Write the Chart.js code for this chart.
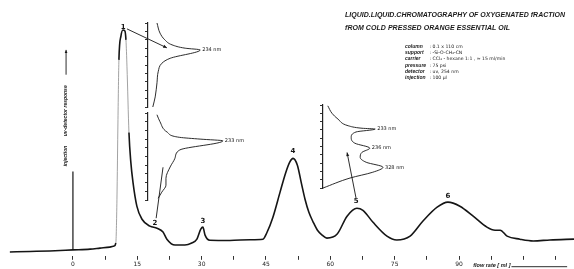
<!DOCTYPE html>
<html>
<head>
<meta charset="utf-8">
<title>Liquid-liquid chromatography of oxygenated fraction</title>
<script src="https://cdn.jsdelivr.net/npm/chart.js@4.4.1/dist/chart.umd.min.js"></script>
<style>
  html, body { margin: 0; padding: 0; background: #fff; }
  #wrap { position: relative; width: 574px; height: 269px; overflow: hidden; }
  canvas { position: absolute; }
  .head { position: absolute; left: 345px; white-space: nowrap; color: #1a1a1a;
          font: italic bold 7px "Liberation Sans", Arial, sans-serif; line-height: 8px; }
  #info { position: absolute; left: 405px; top: 43px; color: #1a1a1a; white-space: nowrap;
          font: 4.6px "DejaVu Sans", sans-serif; line-height: 4.2px; }
  #info b { display: inline-block; width: 23px; font: italic bold 5px "Liberation Sans", Arial, sans-serif; }
</style>
</head>
<body>
<div id="wrap">
  <canvas id="main" width="574" height="269" style="left:0;top:0"></canvas>
  <canvas id="spec1" width="100" height="88" style="left:144px;top:21px"></canvas>
  <canvas id="spec2" width="110" height="91" style="left:144px;top:111px"></canvas>
  <canvas id="spec5" width="100" height="87" style="left:319px;top:103px"></canvas>
  <div class="head" data-w="220" style="top:11px">LIQUID.LIQUID.CHROMATOGRAPHY OF OXYGENATED fRACTION</div>
  <div class="head" data-w="165" style="top:24px">fROM COLD PRESSED ORANGE ESSENTIAL OIL</div>
  <div id="info">
    <div><b>column</b> : 0.1 x 110 cm</div>
    <div><b>support</b> : -Si-O-CH₂-CN</div>
    <div><b>carrier</b> : CCl₄ - hexane 1:1 , ≈ 15 ml/min</div>
    <div><b>pressure</b> : 75 psi</div>
    <div><b>detector</b> : uv, 254 nm</div>
    <div><b>injection</b> : 100 µl</div>
  </div>
</div>
<script>
// recorder trace: flow rate (ml) against uv response (relative, 0-100)
const traceFlow = [-14.7, -10.0, -5.4, 0, 4.0, 6.3, 8.6, 9.6, 10.0, 10.26, 10.5, 10.72, 11.2, 11.66, 12.1,
  12.36, 12.6, 13.06, 13.5, 14.0, 14.9, 16.1, 17.95, 19.6, 21.0, 21.9, 23.8, 26.1, 27.7, 28.9, 29.8,
  30.3, 30.8, 31.9, 36.6, 41.3, 44.3, 45.2, 46.6, 48.3, 49.6, 50.6, 51.3, 52.3, 53.3, 54.1, 55.0,
  56.0, 57.0, 58.1, 59.2, 61.6, 63.9, 66.2, 67.6, 69.9, 73.2, 75.5, 78.6, 81.6, 84.9, 87.4, 90.2,
  93.3, 96.5, 98.4, 99.6, 101.2, 104.2, 107.3, 111.2, 116.8];
const traceResponse = [1.5, 1.7, 1.9, 2.3, 2.6, 3.0, 3.4, 3.8, 5.0, 22.1, 53.3, 76.6, 86.0, 88.3, 87.9,
  84.4, 73.9, 48.2, 36.5, 28.7, 19.4, 14.3, 11.6, 10.8, 9.3, 6.5, 4.2, 4.2, 5.0, 6.5, 10.4,
  11.2, 8.1, 6.1, 6.0, 6.3, 6.5, 9.0, 15.0, 25.0, 32.5, 36.8, 38.1, 35.5, 28.0, 22.1, 17.0,
  13.2, 10.0, 8.1, 6.9, 8.5, 15.5, 18.6, 17.8, 13.2, 7.7, 6.2, 7.7, 13.6, 19.0, 21.0, 19.4,
  15.5, 11.2, 10.0, 10.0, 7.7, 6.5, 5.8, 6.2, 6.5];

// injection mark
const injectionFlow = [0, 0];
const injectionResponse = [2.3, 33];

// peak numbers
const peakNames = ['1', '2', '3', '4', '5', '6'];
const peakFlow = [11.7, 19.1, 30.3, 51.3, 66.0, 87.4];
const peakLabelHeight = [89.5, 12.8, 13.6, 40.8, 21.3, 23.3];

// pointer lines from the peak numbers to the spectra
const pointerFlow = [[12.6, 21.9], [19.4, 21.0], [66.0, 63.9]];
const pointerResponse = [[88.7, 81.3], [14.7, 34.6], [22.5, 40.4]];
const pointerArrow = [true, false, true];

// flow rate axis
const tickValues = [0, 7.5, 15, 22.5, 30, 37.5, 45, 52.5, 60, 67.5, 75, 82.5, 90, 97.5, 105, 112.5];
const tickLabels = ['0', '', '15', '', '30', '', '45', '', '60', '', '75', '', '90', '', '', ''];

// uv spectra (absorbance across, wavelength downwards, relative units)
const spec1Abs = [1.5, 2.0, 2.8, 4.0, 6.2, 8.7, 3.7, 2.3, 1.7, 1.5, 1.2, 0.8];
const spec1Wl = [0, 1.2, 2.0, 2.6, 3.0, 3.2, 4.2, 4.8, 5.8, 7.1, 8.8, 10];
const spec1Peaks = [[5, '234 nm']];

const spec2Abs = [1.5, 2.0, 3.2, 5.3, 8.7, 12.5, 5.3, 4.5, 3.7, 3.0, 3.0, 2.3, 1.7];
const spec2Wl = [0.2, 1.0, 2.2, 2.8, 3.0, 3.2, 4.25, 5.2, 6.2, 7.5, 8.3, 9.1, 9.8];
const spec2Peaks = [[5, '233 nm']];

const spec5Abs = [0.8, 1.5, 2.5, 4.2, 6.5, 8.7, 5.5, 4.7, 5.3, 7.8, 6.5, 6.2, 7.2, 10, 8.3, 4.5, 0];
const spec5Wl = [0.1, 1.0, 1.7, 2.5, 2.8, 2.9, 3.25, 3.9, 4.6, 5.2, 5.7, 6.3, 6.9, 7.5, 8.1, 8.8, 10];
const spec5Peaks = [[5, '233 nm'], [9, '236 nm'], [13, '328 nm']];

const INK = '#151515';

// squeeze / stretch the heading to the width it has on the paper
document.querySelectorAll('.head').forEach(el => {
  const extra = (parseFloat(el.dataset.w) - el.scrollWidth) / el.textContent.length;
  el.style.letterSpacing = extra.toFixed(2) + 'px';
});

function arrowHead(ctx, x0, y0, x1, y1, size) {
  const a = Math.atan2(y1 - y0, x1 - x0);
  ctx.beginPath();
  ctx.moveTo(x1, y1);
  ctx.lineTo(x1 - size * Math.cos(a - 0.4), y1 - size * Math.sin(a - 0.4));
  ctx.lineTo(x1 - size * Math.cos(a + 0.4), y1 - size * Math.sin(a + 0.4));
  ctx.closePath();
  ctx.fill();
}

function vText(ctx, text, x, y) {
  ctx.save();
  ctx.translate(x, y);
  ctx.rotate(-Math.PI / 2);
  ctx.fillText(text, 0, 0);
  ctx.restore();
}

const notes = {
  id: 'notes',
  afterDatasetsDraw(chart) {
    const { ctx, scales: { x, y } } = chart;
    ctx.save();
    ctx.fillStyle = INK;
    ctx.strokeStyle = INK;
    ctx.textAlign = 'center';
    ctx.textBaseline = 'middle';

    ctx.font = 'bold 7px "DejaVu Sans"';
    peakNames.forEach((n, i) => {
      ctx.fillText(n, x.getPixelForValue(peakFlow[i]), y.getPixelForValue(peakLabelHeight[i]));
    });

    ctx.lineWidth = 0.9;
    pointerFlow.forEach((f, i) => {
      const x0 = x.getPixelForValue(f[0]), y0 = y.getPixelForValue(pointerResponse[i][0]);
      const x1 = x.getPixelForValue(f[1]), y1 = y.getPixelForValue(pointerResponse[i][1]);
      ctx.beginPath();
      ctx.moveTo(x0, y0);
      ctx.lineTo(x1, y1);
      ctx.stroke();
      if (pointerArrow[i]) arrowHead(ctx, x0, y0, x1, y1, 4);
    });

    // captions on the left
    ctx.font = 'italic bold 5px "Liberation Sans"';
    const cx = x.getPixelForValue(-1.6);
    vText(ctx, 'injection', cx, y.getPixelForValue(39));
    vText(ctx, 'uv-detector response', cx, y.getPixelForValue(56.7));
    const a0 = y.getPixelForValue(70.8), a1 = y.getPixelForValue(80.5);
    ctx.beginPath();
    ctx.moveTo(cx, a0);
    ctx.lineTo(cx, a1);
    ctx.stroke();
    arrowHead(ctx, cx, a0, cx, a1, 3.5);

    // flow rate caption next to the tick labels
    const ty = x.bottom - 3.8;
    ctx.textAlign = 'left';
    ctx.font = 'italic bold 5.5px "Liberation Sans"';
    const fx = x.getPixelForValue(93.3);
    ctx.fillText('flow rate [ ml ]', fx, ty);
    const fw = ctx.measureText('flow rate [ ml ]').width;
    ctx.beginPath();
    ctx.moveTo(fx + fw + 1, ty + 1.5);
    ctx.lineTo(x.getPixelForValue(115.2), ty + 1.5);
    ctx.stroke();
    ctx.restore();
  }
};

const steep = c => Math.abs(c.p1.parsed.y - c.p0.parsed.y) / Math.max(c.p1.parsed.x - c.p0.parsed.x, 0.01) > 40;

new Chart(document.getElementById('main'), {
  type: 'line',
  data: {
    datasets: [
      {
        data: traceFlow.map((v, i) => ({ x: v, y: traceResponse[i] })),
        borderColor: INK,
        borderWidth: 1.6,
        pointRadius: 0,
        cubicInterpolationMode: 'monotone',
        clip: false,
        segment: {
          borderWidth: c => steep(c) ? 0.8 : undefined,
          borderColor: c => steep(c) ? '#8a8a8a' : undefined
        }
      },
      {
        data: injectionFlow.map((v, i) => ({ x: v, y: injectionResponse[i] })),
        borderColor: INK,
        borderWidth: 1.2,
        pointRadius: 0
      }
    ]
  },
  options: {
    responsive: false,
    animation: false,
    layout: { padding: 0 },
    plugins: { legend: { display: false }, tooltip: { enabled: false } },
    scales: {
      x: {
        type: 'linear',
        min: -17,
        max: 116.8,
        afterBuildTicks: s => { s.ticks = tickValues.map(v => ({ value: v })); },
        grid: { drawOnChartArea: false, drawTicks: true, tickLength: 4, color: '#333' },
        border: { display: false },
        ticks: {
          padding: 1,
          autoSkip: false,
          maxRotation: 0,
          color: '#222',
          font: { size: 6, family: 'DejaVu Sans' },
          callback: (v, i) => tickLabels[i]
        }
      },
      y: { display: false, min: 0, max: 100 }
    }
  },
  plugins: [notes]
});

function peakText(marks) {
  return {
    id: 'peakText',
    afterDatasetsDraw(chart) {
      const { ctx } = chart;
      const pts = chart.getDatasetMeta(0).data;
      ctx.save();
      ctx.fillStyle = INK;
      ctx.font = '5px "DejaVu Sans"';
      ctx.textBaseline = 'middle';
      marks.forEach(([i, t]) => ctx.fillText(t, pts[i].x + 2, pts[i].y));
      ctx.restore();
    }
  };
}

function spectrum(id, abs, wl, marks, maxAbs) {
  new Chart(document.getElementById(id), {
    type: 'line',
    data: {
      datasets: [{
        data: abs.map((a, i) => ({ x: a, y: wl[i] })),
        borderColor: INK,
        borderWidth: 0.9,
        pointRadius: 0,
        cubicInterpolationMode: 'monotone',
        clip: false
      }]
    },
    options: {
      indexAxis: 'y',
      responsive: false,
      animation: false,
      layout: { padding: { top: 2, bottom: 2 } },
      plugins: { legend: { display: false }, tooltip: { enabled: false } },
      scales: {
        x: { type: 'linear', display: false, min: 0, max: maxAbs },
        y: {
          type: 'linear',
          min: 0,
          max: 10,
          reverse: true,
          afterFit: s => { s.width = 4; },
          ticks: { display: false, stepSize: 1 },
          grid: { drawOnChartArea: false, tickLength: 3, color: '#333' },
          border: { color: '#222', width: 1.2 }
        }
      }
    },
    plugins: [peakText(marks)]
  });
}

spectrum('spec1', spec1Abs, spec1Wl, spec1Peaks, 16);
spectrum('spec2', spec2Abs, spec2Wl, spec2Peaks, 17.7);
spectrum('spec5', spec5Abs, spec5Wl, spec5Peaks, 16);
</script>
</body>
</html>
